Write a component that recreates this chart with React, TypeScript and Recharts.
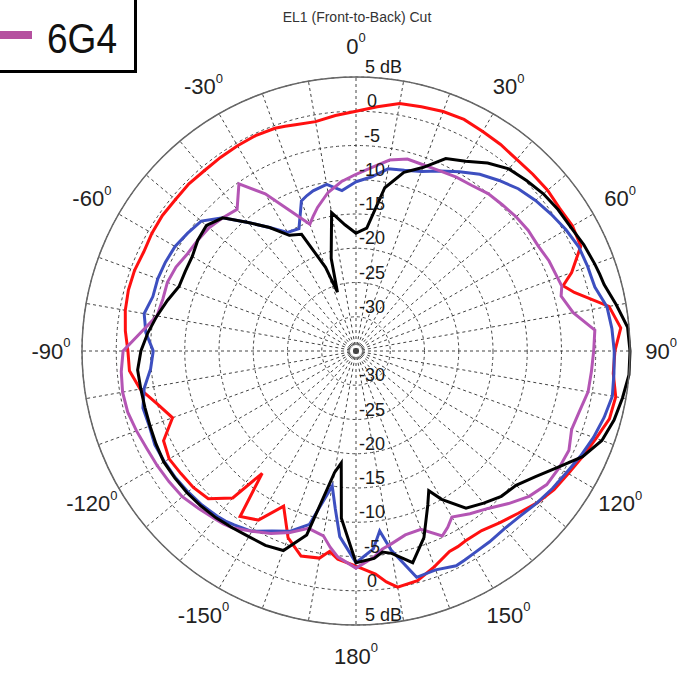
import React from 'react';
import { RadarChart, Radar, PolarGrid, PolarAngleAxis, PolarRadiusAxis } from 'recharts';

// pattern angles (deg, clockwise from 0 = front); extra samples at narrow nulls
const angles = [
  0, 5, 10, 15, 20, 25, 30, 35, 40, 45, 50, 55, 60, 65, 70, 72.5, 75, 80, 85, 90,
  95, 100, 105, 110, 115, 120, 125, 130, 135, 140, 145, 150, 152.5, 155, 160, 165, 170, 172.5, 175, 180,
  185, 187.5, 190, 195, 200, 205, 210, 215, 217.5, 220, 225, 230, 235, 240, 245, 250, 255, 260, 265, 270,
  275, 280, 285, 290, 295, 300, 305, 310, 315, 320, 325, 330, 335, 340, 342.5, 345, 350, 355,
];

// gain in dB for each trace
const redTrace = [
  0, 0.8, 1.7, 1.9, 2.2, 2.3, 2.0, 1.8, 1.5, 1.5, 1.5, 1.3, 1.5, 1.2, -1.5, -3.3, -2.0, 2.5, 3.8, 2.8,
  2.7, 3.5, 3.3, 2.3, 1.5, 0.8, 0.3, -0.5, -1.5, -2.3, -3.0, -3.0, -2.8, -2.7, -1.5, -0.3, 0, -1.0, -2.3, -3.6,
  -4.5, -5.5, -4.3, -4.0, -6.0, -10.0, -6.5, -5.5, -12.5, -7.0, -4.5, -4.0, -3.8, -3.5, -4.0, -6.5, -5.0, -3.0, -1.8, -1.7,
  -1.2, -0.8, -0.6, -0.6, -0.8, -0.6, -0.5, -0.6, -0.5, -0.6, -0.5, -0.4, -0.3, -0.4, -0.6, -0.8, -1.0, -0.5,
];
const blueTrace = [
  -10.3, -9.5, -8.0, -7.7, -7.1, -6.0, -4.8, -3.5, -2.5, -1.5, -0.8, -0.2, 0.4, 0.9, 1.0, 1.0, 1.1, 2.2, 2.5, 2.7,
  2.8, 3.0, 2.5, 1.9, 1.2, 0.5, 0, -0.5, -1.0, -1.2, -1.0, -0.8, -0.6, -0.4, -1.0, -0.8, -5.5, -8.5, -6.0, -4.1,
  -7.8, -11.8, -15.0, -8.8, -7.0, -6.0, -4.6, -4.0, -3.7, -3.5, -3.2, -3.0, -2.8, -2.7, -2.6, -2.9, -2.8, -3.6, -4.9, -5.4,
  -4.2, -3.6, -4.3, -4.2, -4.3, -4.5, -5.0, -5.5, -7.5, -10.5, -13.0, -15.0, -15.3, -11.7, -11.2, -10.8, -10.3, -11.5,
];
const blackTrace = [
  -17.8, -17.0, -10.8, -8.0, -6.5, -4.0, -3.0, -1.5, -0.3, 0.2, 0.7, 1.0, 1.2, 1.7, 2.1, 2.3, 2.5, 3.6, 4.8, 5.0,
  5.0, 4.5, 4.0, 3.2, 1.5, -1.0, -3.0, -4.5, -5.0, -6.0, -7.0, -10.0, -12.0, -10.2, -6.0, -3.0, -5.0, -5.4, -4.6, -4.1,
  -10.5, -18.5, -17.0, -7.2, -4.0, -3.7, -3.7, -3.5, -3.4, -3.2, -3.0, -2.8, -2.7, -2.6, -2.8, -3.0, -3.1, -3.1, -3.0, -3.6,
  -4.5, -5.5, -6.5, -7.5, -7.5, -7.4, -6.8, -6.5, -7.5, -10.5, -13.0, -15.5, -16.2, -22.0, -26.0, -21.0, -14.5, -16.5,
];
const g4Trace = [
  -9.2, -8.1, -6.7, -6.0, -6.1, -6.0, -5.7, -5.5, -5.0, -4.8, -4.5, -4.3, -4.3, -3.9, -3.7, -3.5, -4.0, -2.8, 0.0, -0.3,
  -0.5, -0.6, -1.2, -1.5, -0.7, -0.8, -1.0, -2.0, -3.5, -5.0, -6.0, -7.0, -6.0, -5.2, -7.3, -7.2, -6.3, -5.8, -4.8, -3.3,
  -4.8, -6.1, -7.6, -8.2, -6.8, -5.6, -4.6, -3.5, -3.2, -3.0, -2.5, -1.9, -1.7, -1.5, -1.3, -0.9, -0.5, -0.4, -0.6, -1.0,
  -3.5, -5.5, -5.8, -5.7, -6.0, -6.6, -6.8, -7.0, -7.5, -8.0, -5.2, -8.5, -12.5, -15.3, -14.3, -13.3, -11.5, -10.2,
];

const angleTicks = [0, 30, 60, 90, 120, 150, 180, 210, 240, 270, 300, 330];
const spokeAngles = [0, 10, 20, 30, 40, 50, 60, 70, 80, 90, 100, 110, 120, 130, 140, 150, 160, 170,
  180, 190, 200, 210, 220, 230, 240, 250, 260, 270, 280, 290, 300, 310, 320, 330, 340, 350];
const dbTicks = [-30, -25, -20, -15, -10, -5, 0, 5];

const rows = angles.map((a, i) => ({
  angle: a,
  red: redTrace[i],
  blue: blueTrace[i],
  black: blackTrace[i],
  g4: g4Trace[i],
}));

const CX = 356;
const CY = 351;
const FONT = '"Liberation Sans", Arial, Helvetica, sans-serif';

function AngleTick(props: any) {
  const { x, y, payload } = props;
  const v = payload.value;
  const label = v > 180 ? v - 360 : v;
  return (
    <text x={x} y={y} textAnchor="middle" dominantBaseline="central" fontSize={22} fontFamily={FONT} fill="#222">
      {label}
      <tspan fontSize={13} dy={-9}>0</tspan>
    </text>
  );
}

// dB labels drawn on the front and back spokes
function DbTick(props: any) {
  const { x, y, payload } = props;
  const v = payload.value;
  const yb = 2 * CY - y;
  const isTop = v === 5;
  const label = isTop ? '5 dB' : String(v);
  const tx = isTop ? x + 9 : x + 16;
  const anchor = isTop ? 'start' : 'middle';
  return (
    <g fontSize={18} fontFamily={FONT} fill="#1a1a1a">
      <text x={tx} y={y - 4} textAnchor={anchor}>{label}</text>
      <text x={tx} y={yb - 4} textAnchor={anchor}>{label}</text>
    </g>
  );
}

export default function App() {
  return (
    <div style={{ position: 'absolute', left: 0, top: 0, width: 683, height: 680, background: '#fff' }}>
      <RadarChart
        width={683}
        height={680}
        cx={CX}
        cy={CY}
        outerRadius={274}
        data={rows}
        startAngle={90}
        endAngle={-270}
        margin={{ top: 0, right: 0, bottom: 0, left: 0 }}
      >
        <PolarGrid gridType="circle" polarAngles={spokeAngles} stroke="#444" strokeDasharray="3 3" strokeWidth={1} />
        <PolarAngleAxis
          dataKey="angle"
          type="number"
          domain={[0, 360]}
          ticks={angleTicks}
          tickSize={31}
          tickLine={false}
          axisLineType="circle"
          axisLine={{ stroke: '#666', strokeWidth: 1.5, strokeDasharray: '' }}
          tick={AngleTick}
        />
        <Radar dataKey="red" stroke="#ff1010" strokeWidth={3} fill="none" dot={false} isAnimationActive={false} />
        <Radar dataKey="blue" stroke="#3d4fc0" strokeWidth={3} fill="none" dot={false} isAnimationActive={false} />
        <Radar dataKey="g4" name="6G4" stroke="#b455b4" strokeWidth={3} fill="none" dot={false} isAnimationActive={false} />
        <Radar dataKey="black" stroke="#000" strokeWidth={3} fill="none" dot={false} isAnimationActive={false} />
        <PolarRadiusAxis
          angle={90}
          type="number"
          domain={[-35, 5]}
          ticks={dbTicks}
          axisLine={false}
          tickLine={false}
          tick={DbTick}
        />
      </RadarChart>
      <svg width={683} height={680} style={{ position: 'absolute', left: 0, top: 0, pointerEvents: 'none' }}>
        <text x={357} y={22} textAnchor="middle" fontSize={14} fontFamily={FONT} fill="#333">
          EL1 (Front-to-Back) Cut
        </text>
        <rect x={-10} y={-10} width={145.5} height={81.5} fill="#fff" stroke="#000" strokeWidth={3} />
        <line x1={0} y1={35} x2={32} y2={35} stroke="#b5509f" strokeWidth={8} />
        <text x={47} y={53} fontSize={43} fontFamily={FONT} fill="#111" textLength={70} lengthAdjust="spacingAndGlyphs">
          6G4
        </text>
      </svg>
    </div>
  );
}
